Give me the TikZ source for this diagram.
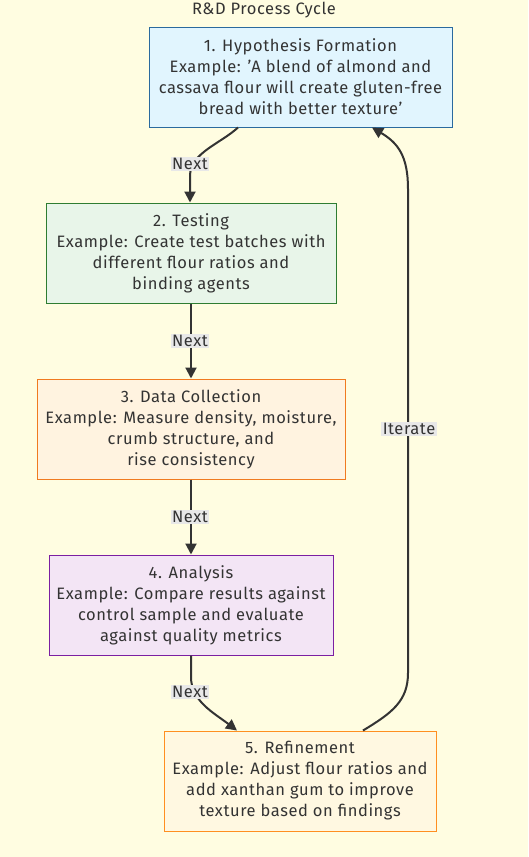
\documentclass[tikz,border=0pt]{standalone}
\usepackage{fontspec}
\setmainfont{Fira Sans}[LetterSpace=3.5]
\usetikzlibrary{arrows.meta}
\definecolor{bg}{HTML}{FFFDE1}
\definecolor{ink}{HTML}{333333}
\definecolor{lblbg}{HTML}{E8E8E8}
\definecolor{f1}{HTML}{E1F5FE}\definecolor{s1}{HTML}{2A6A9E}
\definecolor{f2}{HTML}{E8F5E9}\definecolor{s2}{HTML}{2E7D32}
\definecolor{f3}{HTML}{FFF3E0}\definecolor{s3}{HTML}{F07A20}
\definecolor{f4}{HTML}{F3E5F5}\definecolor{s4}{HTML}{7B1FA2}
\definecolor{f5}{HTML}{FFF8E1}\definecolor{s5}{HTML}{FF8F20}
\newcommand{\sq}{{\char"27}}
\tikzset{
  box/.style={draw, line width=1pt, text=ink, align=center, inner sep=0pt,
    font=\fontsize{16.5}{21}\selectfont},
  arr/.style={draw=ink, line width=2pt, -{Triangle[length=11pt,width=11pt]}},
  lbl/.style={fill=lblbg, text=ink, inner sep=1.5pt, font=\fontsize{16.5}{19}\selectfont},
}
\begin{document}
\begin{tikzpicture}[x=1pt,y=-1pt]
\fill[bg] (0,0) rectangle (528,857);
\useasboundingbox (0,0) rectangle (528,857);
\node[text=ink, font=\fontsize{16.5}{19}\selectfont] (title) at (264,10) {R\&D Process Cycle};
\node[box, fill=f1, draw=s1, minimum width=303pt, minimum height=100pt] (n1) at (300.5,77)
  {1. Hypothesis Formation\\Example: \sq A blend of almond and\\cassava flour will create gluten-free\\bread with better texture\sq};
\node[box, fill=f2, draw=s2, minimum width=290pt, minimum height=100pt] (n2) at (191,253)
  {2. Testing\\Example: Create test batches with\\different flour ratios and\\binding agents};
\node[box, fill=f3, draw=s3, minimum width=308pt, minimum height=100pt] (n3) at (191,429)
  {3. Data Collection\\Example: Measure density, moisture,\\crumb structure, and\\rise consistency};
\node[box, fill=f4, draw=s4, minimum width=284pt, minimum height=100pt] (n4) at (191,605)
  {4. Analysis\\Example: Compare results against\\control sample and evaluate\\against quality metrics};
\node[box, fill=f5, draw=s5, minimum width=272pt, minimum height=100pt] (n5) at (300,781)
  {5. Refinement\\Example: Adjust flour ratios and\\add xanthan gum to improve\\texture based on findings};
% edges
\coordinate (a1) at ([xshift=-62.5pt]n1.south);
\coordinate (b1) at (190,176);
\draw[arr] (a1) .. controls (220,144) and (190,153) .. (b1) -- (b1 |- n2.north);
\node[lbl] (l1) at (190,164) {Next};
\draw[arr] (n2.south) -- (n3.north);
\node[lbl] (l2) at (190,341) {Next};
\draw[arr] (n3.south) -- (n4.north);
\node[lbl] (l3) at (190,517) {Next};
\coordinate (a4) at (191,677);
\coordinate (b4) at ([xshift=-63pt]n5.north);
\draw[arr] (n4.south) -- (a4) .. controls (191,701) and (214,713) .. (b4);
\node[lbl] (l4) at (190,692) {Next};
\coordinate (a5) at ([xshift=63pt]n5.north);
\coordinate (c5) at (408,673);
\coordinate (d5) at (408,189);
\coordinate (b5) at ([xshift=71.5pt]n1.south);
\draw[arr] (a5) .. controls (392,713) and (408,701) .. (c5) -- (d5) .. controls (408,156) and (398,143) .. (b5);
\node[lbl] (l5) at (409,429) {Iterate};
\end{tikzpicture}
\end{document}
